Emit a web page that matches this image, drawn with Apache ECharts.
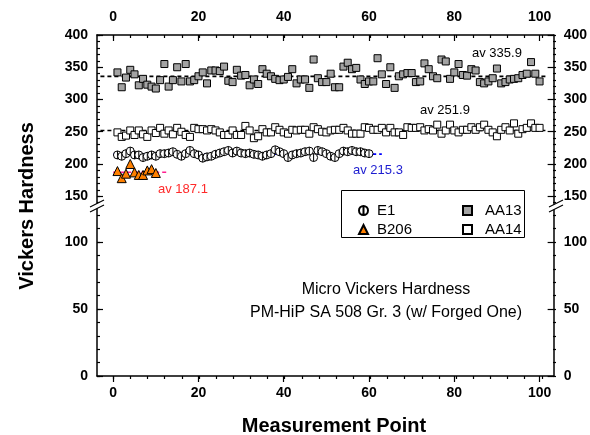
<!DOCTYPE html>
<html><head><meta charset="utf-8">
<script src="https://cdn.jsdelivr.net/npm/echarts@6/dist/echarts.min.js"></script>
<style>html,body{margin:0;padding:0;background:#fff}#c{width:590px;height:435px}</style>
</head><body><div id="c"></div>
<script>
// ---------- data ----------
const valuesAA13 = [342,319,334,346,339,322,332,323,320,317,
  330,355,320,330,350,328,355,328,330,336,
  342,325,345,345,344,351,329,327,346,337,
  338,322,331,324,347,340,336,332,330,331,
  335,347,325,331,331,318,362,333,327,327,
  340,319,319,351,357,347,349,331,324,328,
  328,364,339,324,350,318,336,339,341,341,
  327,328,356,347,336,333,362,359,332,342,
  355,338,337,347,345,327,325,328,333,348,
  325,327,331,332,333,338,340,358,340,328];
const valuesAA14 = [249,242,244,252,245,252,246,242,252,248,256,247,252,246,256,250,245,242,256,
  254,254,252,254,252,249,245,245,252,245,245,259,252,240,243,254,249,249,257,253,249,
  247,253,252,253,253,247,257,254,250,249,252,253,253,256,252,247,247,247,257,256,253,
  253,256,249,256,249,249,245,257,256,256,257,252,254,252,261,247,252,261,252,249,253,
  253,257,253,257,261,253,249,243,253,257,252,263,247,254,256,263,256,256];
const valuesE1 = [214,212,216,220,214,214,210,212,214,212,216,216,217,219,215,212,216,221,216,
  214,209,211,212,215,217,219,221,217,220,217,216,217,215,214,212,214,216,222,219,216,
  210,214,216,217,219,220,210,221,219,216,212,210,216,220,219,221,219,219,217,216];
const valuesB206 = [189,178,185,200,187,183,183,190,192,186];

const avgAA13 = 335.9, avgAA14 = 251.9, avgE1 = 215.3, avgB206 = 187.1;
const spanAA13 = [-3, 102], spanAA14 = [-3, 102], spanE1 = [0, 63], spanB206 = [0, 13];

const xMajor = [0,20,40,60,80,100];
const xMinor = [0,4,8,12,16,20,24,28,32,36,40,44,48,52,56,60,64,68,72,76,80,84,88,92,96,100];
const yUpperMajor = [150,200,250,300,350,400];
const yUpperMinor = [140,150,160,170,180,190,200,210,220,230,240,250,260,270,280,290,300,310,320,330,340,350,360,370,380,390,400];
const yLowerMajor = [0,50,100];
const yLowerMinor = [0,10,20,30,40,50,60,70,80,90,100,110,120];

// ---------- helpers ----------
const FONT = 'Liberation Sans, Arial, sans-serif';
const toPts = arr => arr.map((v, i) => [i + 1, v]);
const X_MIN = -3.8, X_MAX = 103.3;
const UP_MIN = 136.4, UP_MAX = 400, LO_MIN = 0, LO_MAX = 127.6;
const lbl = {fontFamily: FONT, fontWeight: 'bold', fontSize: 14, color: '#000'};
const axLine = {show: true, onZero: false, lineStyle: {color: '#000', width: 1.5}};
const noLine = {show: false, onZero: false};

function xAx(grid, pos, values, major, showLine) {
  return {
    type: 'value', gridIndex: grid, position: pos, min: X_MIN, max: X_MAX,
    axisLine: showLine ? axLine : noLine,
    axisTick: {show: true, inside: pos === 'top', length: major ? 6 : 3, customValues: values,
      lineStyle: {color: '#000', width: 1.2}},
    axisLabel: major ? Object.assign({customValues: values, margin: pos === 'top' ? 11 : 10}, lbl) : {show: false},
    splitLine: {show: false}
  };
}
function yAx(grid, pos, min, max, values, major) {
  return {
    type: 'value', gridIndex: grid, position: pos, min: min, max: max,
    axisLine: major ? axLine : noLine,
    axisTick: {show: true, inside: true, length: major ? 6 : 3, customValues: values,
      lineStyle: {color: '#000', width: 1.2}},
    axisLabel: major ? Object.assign({customValues: values, margin: pos === 'left' ? 9 : 10}, lbl) : {show: false},
    splitLine: {show: false}
  };
}

const upperGrid = {left: 97, right: 34, top: 35, height: 170};
const lowerGrid = {left: 97, right: 34, top: 205, height: 171};

function avgLine(span, val, color) {
  return {
    type: 'line', xAxisIndex: 0, yAxisIndex: 0, silent: true, symbol: 'none', z: 1,
    data: [[span[0], val], [span[1], val]],
    lineStyle: {color: color, width: 1.6, type: [4, 3]}
  };
}

const e1Symbol = 'path://M10,0 A10,10 0 1,1 10,20 A10,10 0 1,1 10,0 Z M10,0 L10,20';

const option = {
  animation: false,
  backgroundColor: '#fff',
  grid: [
    Object.assign({}, upperGrid), Object.assign({}, upperGrid),
    Object.assign({}, lowerGrid), Object.assign({}, lowerGrid)
  ],
  xAxis: [
    xAx(0, 'top', xMajor, true, true),
    xAx(1, 'top', xMinor, false, false),
    xAx(2, 'bottom', xMajor, true, true),
    xAx(3, 'bottom', xMinor, false, false)
  ],
  yAxis: [
    yAx(0, 'left', UP_MIN, UP_MAX, yUpperMajor, true),
    yAx(0, 'right', UP_MIN, UP_MAX, yUpperMajor, true),
    yAx(1, 'left', UP_MIN, UP_MAX, yUpperMinor, false),
    yAx(1, 'right', UP_MIN, UP_MAX, yUpperMinor, false),
    yAx(2, 'left', LO_MIN, LO_MAX, yLowerMajor, true),
    yAx(2, 'right', LO_MIN, LO_MAX, yLowerMajor, true),
    yAx(3, 'left', LO_MIN, LO_MAX, yLowerMinor, false),
    yAx(3, 'right', LO_MIN, LO_MAX, yLowerMinor, false)
  ],
  legend: [
    {data: ['E1', 'B206'], orient: 'vertical', left: 353, top: 198, itemWidth: 9, itemHeight: 9, itemGap: 4,
     textStyle: {fontFamily: FONT, fontSize: 15, color: '#000', padding: [0, 0, 0, 4]}},
    {data: ['AA13', 'AA14'], orient: 'vertical', left: 457, top: 198, itemWidth: 9, itemHeight: 9, itemGap: 4,
     textStyle: {fontFamily: FONT, fontSize: 15, color: '#000', padding: [0, 0, 0, 8]}}
  ],
  series: [
    avgLine(spanAA13, avgAA13, '#000'),
    avgLine(spanAA14, avgAA14, '#000'),
    avgLine(spanE1, avgE1, '#0000ff'),
    avgLine(spanB206, avgB206, '#ff2090'),
    {name: 'AA13', type: 'scatter', xAxisIndex: 0, yAxisIndex: 0, symbol: 'rect', symbolSize: 7, z: 3,
     itemStyle: {color: '#a3a3a3', borderColor: '#000', borderWidth: 1, opacity: 1}, data: toPts(valuesAA13)},
    {name: 'AA14', type: 'scatter', xAxisIndex: 0, yAxisIndex: 0, symbol: 'rect', symbolSize: 7, z: 3,
     itemStyle: {color: '#fff', borderColor: '#000', borderWidth: 1, opacity: 1}, data: toPts(valuesAA14)},
    {name: 'E1', type: 'scatter', xAxisIndex: 0, yAxisIndex: 0, symbol: e1Symbol, symbolSize: 8, z: 3,
     itemStyle: {color: '#fff', borderColor: '#000', borderWidth: 1, opacity: 1}, data: toPts(valuesE1)},
    {name: 'B206', type: 'scatter', xAxisIndex: 0, yAxisIndex: 0, symbol: 'triangle', symbolSize: 9, z: 3,
     itemStyle: {color: '#ff8000', borderColor: '#000', borderWidth: 1, opacity: 1}, data: toPts(valuesB206)}
  ],
  graphic: [
    {type: 'rect', shape: {x: 341.5, y: 190.5, width: 183, height: 47}, style: {fill: 'none', stroke: '#000', lineWidth: 1}, z: 5},
    {type: 'polygon', shape: {points: [[90, 207], [104, 200], [104, 205], [90, 212]]}, style: {fill: '#fff'}, z: 10},
    {type: 'line', shape: {x1: 90, y1: 207, x2: 104, y2: 200}, style: {stroke: '#000', lineWidth: 1.2}, z: 11},
    {type: 'line', shape: {x1: 90, y1: 212, x2: 104, y2: 205}, style: {stroke: '#000', lineWidth: 1.2}, z: 11},
    {type: 'polygon', shape: {points: [[549, 207], [563, 200], [563, 205], [549, 212]]}, style: {fill: '#fff'}, z: 10},
    {type: 'line', shape: {x1: 549, y1: 207, x2: 563, y2: 200}, style: {stroke: '#000', lineWidth: 1.2}, z: 11},
    {type: 'line', shape: {x1: 549, y1: 212, x2: 563, y2: 205}, style: {stroke: '#000', lineWidth: 1.2}, z: 11},
    {type: 'text', x: 472, y: 53, style: {text: 'av 335.9', fontFamily: FONT, fontSize: 13, fill: '#000', verticalAlign: 'middle'}, z: 12},
    {type: 'text', x: 420, y: 110, style: {text: 'av 251.9', fontFamily: FONT, fontSize: 13, fill: '#000', verticalAlign: 'middle'}, z: 12},
    {type: 'text', x: 353, y: 170, style: {text: 'av 215.3', fontFamily: FONT, fontSize: 13, fill: '#1c1cd0', verticalAlign: 'middle'}, z: 12},
    {type: 'text', x: 158, y: 189, style: {text: 'av 187.1', fontFamily: FONT, fontSize: 13, fill: '#ff2a2a', verticalAlign: 'middle'}, z: 12},
    {type: 'text', x: 386, y: 290, style: {text: 'Micro Vickers Hardness', fontFamily: FONT, fontSize: 16, fill: '#000', align: 'center', verticalAlign: 'middle'}, z: 12},
    {type: 'text', x: 386, y: 313, style: {text: 'PM-HiP SA 508 Gr. 3 (w/ Forged One)', fontFamily: FONT, fontSize: 16, fill: '#000', align: 'center', verticalAlign: 'middle'}, z: 12},
    {type: 'text', x: 334, y: 426, style: {text: 'Measurement Point', fontFamily: FONT, fontSize: 20, fontWeight: 'bold', fill: '#000', align: 'center', verticalAlign: 'middle'}, z: 12},
    {type: 'text', x: 27, y: 206, rotation: Math.PI / 2, style: {text: 'Vickers Hardness', fontFamily: FONT, fontSize: 20, fontWeight: 'bold', fill: '#000', align: 'center', verticalAlign: 'middle'}, z: 12}
  ]
};

const chart = echarts.init(document.getElementById('c'), null, {renderer: 'canvas'});
chart.setOption(option);
</script>
</body></html>
